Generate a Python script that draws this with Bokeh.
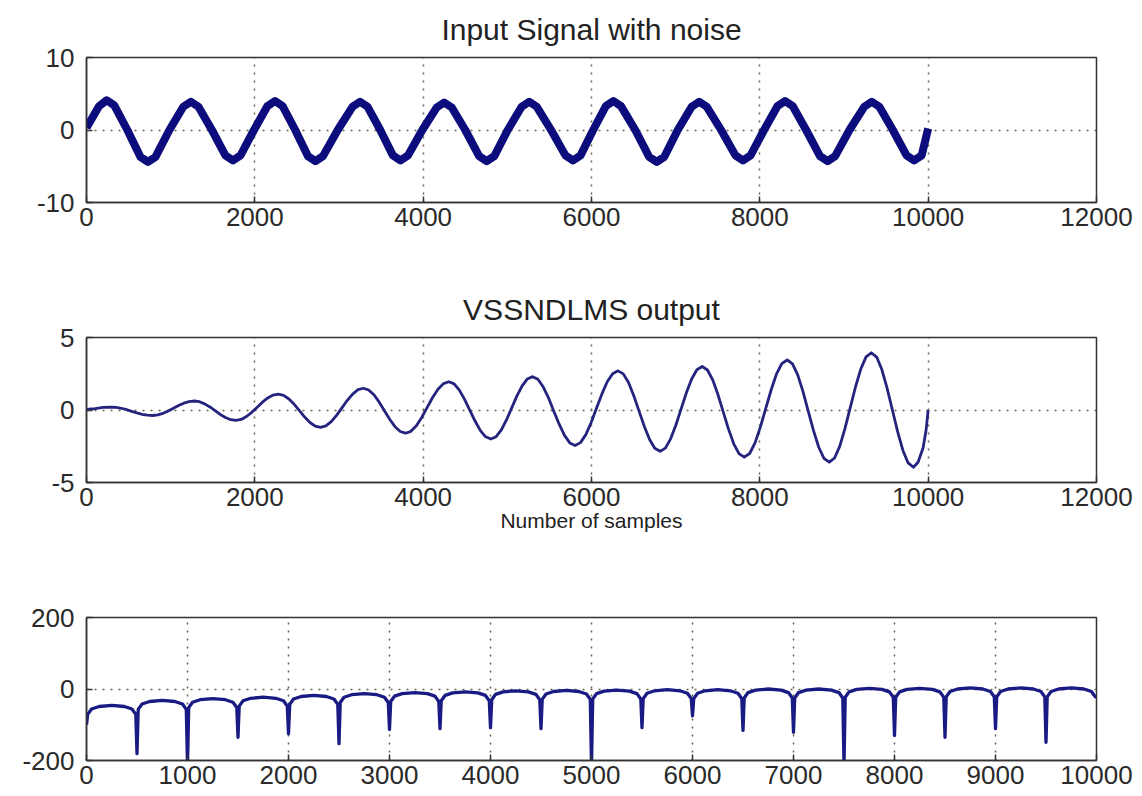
from bokeh.plotting import figure
from bokeh.layouts import column
from bokeh.models import FixedTicker, Range1d
from bokeh.embed import file_html
from bokeh.resources import INLINE

# ---------------- data ----------------
# Panel 1: input signal with noise (key points along the noisy sinusoid)
x1 = [0, 150, 240, 330, 485, 640, 730, 820, 985,
      1150, 1240, 1330, 1490, 1650, 1740, 1830, 1990,
      2150, 2240, 2330, 2480, 2630, 2720, 2810, 2985,
      3160, 3250, 3340, 3490, 3640, 3730, 3820, 3990,
      4160, 4250, 4340, 4500, 4665, 4755, 4845, 5005,
      5170, 5260, 5350, 5520, 5690, 5780, 5870, 6020,
      6170, 6260, 6350, 6520, 6685, 6775, 6865, 7025,
      7190, 7280, 7370, 7540, 7710, 7800, 7890, 8050,
      8210, 8300, 8390, 8550, 8715, 8805, 8895, 9065,
      9240, 9330, 9420, 9580, 9743, 9833, 9923, 10000]
y1 = [0.3, 3.3, 4.1, 3.4, 0.0, -3.7, -4.4, -3.7, 0.0,
      3.2, 3.9, 3.2, 0.0, -3.5, -4.2, -3.5, 0.0,
      3.3, 4.0, 3.3, 0.0, -3.6, -4.3, -3.6, 0.0,
      3.2, 3.9, 3.2, 0.0, -3.5, -4.2, -3.5, 0.0,
      3.1, 3.8, 3.1, 0.0, -3.6, -4.3, -3.6, 0.0,
      3.2, 3.9, 3.2, 0.0, -3.5, -4.2, -3.5, 0.0,
      3.3, 4.0, 3.3, 0.0, -3.7, -4.4, -3.7, 0.0,
      3.2, 3.9, 3.2, 0.0, -3.5, -4.2, -3.5, 0.0,
      3.3, 4.0, 3.3, 0.0, -3.6, -4.3, -3.6, 0.0,
      3.2, 3.9, 3.2, 0.0, -3.5, -4.2, -3.5, 0.2]

# Panel 2: VSSNDLMS output (growing oscillation)
x2 = [0, 100, 200, 290,
      352, 414, 476, 538, 599, 661, 723, 785,
      847, 909, 971, 1033, 1094, 1156, 1218, 1280,
      1342, 1404, 1466, 1528, 1589, 1651, 1713, 1775,
      1838, 1901, 1964, 2028, 2091, 2154, 2217, 2280,
      2342, 2405, 2468, 2530, 2592, 2655, 2718, 2780,
      2844, 2908, 2971, 3035, 3099, 3162, 3226, 3290,
      3352, 3415, 3478, 3540, 3602, 3665, 3728, 3790,
      3854, 3919, 3983, 4048, 4112, 4176, 4241, 4305,
      4368, 4430, 4492, 4555, 4618, 4680, 4742, 4805,
      4867, 4929, 4991, 5052, 5114, 5176, 5238, 5300,
      5363, 5426, 5489, 5552, 5616, 5679, 5742, 5805,
      5869, 5933, 5996, 6060, 6124, 6187, 6251, 6315,
      6378, 6440, 6502, 6565, 6628, 6690, 6752, 6815,
      6878, 6940, 7002, 7065, 7128, 7190, 7252, 7315,
      7378, 7440, 7502, 7565, 7628, 7690, 7752, 7815,
      7879, 7943, 8006, 8070, 8134, 8197, 8261, 8325,
      8388, 8450, 8512, 8575, 8638, 8700, 8762, 8825,
      8888, 8950, 9012, 9075, 9138, 9200, 9262, 9325,
      9388, 9450, 9512, 9575, 9638, 9700, 9762, 9825,
      9880, 9940, 9975, 10000]
y2 = [0.05, 0.10, 0.18, 0.20,
      0.18, 0.12, 0.02, -0.09, -0.20, -0.30, -0.36, -0.38,
      -0.34, -0.23, -0.07, 0.12, 0.31, 0.47, 0.58, 0.62,
      0.57, 0.42, 0.21, -0.05, -0.31, -0.52, -0.67, -0.72,
      -0.65, -0.45, -0.16, 0.19, 0.54, 0.83, 1.03, 1.10,
      1.01, 0.76, 0.39, -0.05, -0.49, -0.86, -1.11, -1.20,
      -1.10, -0.80, -0.37, 0.15, 0.67, 1.10, 1.40, 1.50,
      1.38, 1.05, 0.54, -0.05, -0.64, -1.15, -1.48, -1.60,
      -1.47, -1.08, -0.51, 0.18, 0.86, 1.43, 1.82, 1.95,
      1.80, 1.37, 0.73, -0.03, -0.78, -1.42, -1.85, -2.00,
      -1.84, -1.37, -0.67, 0.15, 0.97, 1.67, 2.14, 2.30,
      2.12, 1.60, 0.84, -0.08, -0.98, -1.75, -2.27, -2.45,
      -2.25, -1.70, -0.86, 0.13, 1.11, 1.95, 2.50, 2.70,
      2.49, 1.89, 0.99, -0.08, -1.14, -2.04, -2.64, -2.85,
      -2.63, -1.99, -1.05, 0.08, 1.20, 2.14, 2.78, 3.00,
      2.76, 2.08, 1.07, -0.13, -1.32, -2.33, -3.01, -3.25,
      -3.00, -2.27, -1.18, 0.10, 1.38, 2.47, 3.20, 3.45,
      3.18, 2.42, 1.28, -0.08, -1.42, -2.57, -3.33, -3.60,
      -3.31, -2.49, -1.27, 0.18, 1.62, 2.84, 3.66, 3.95,
      3.65, 2.79, 1.51, 0.00, -1.51, -2.79, -3.65, -3.95,
      -3.60, -2.60, -1.40, 0.00]

# Panel 3: arcs with notches every 500 samples
x3 = [0,
      12, 50, 125, 250, 375, 450, 488, 500,
      512, 550, 625, 750, 875, 950, 988, 1000,
      1012, 1050, 1125, 1250, 1375, 1450, 1488, 1500,
      1512, 1550, 1625, 1750, 1875, 1950, 1988, 2000,
      2012, 2050, 2125, 2250, 2375, 2450, 2488, 2500,
      2512, 2550, 2625, 2750, 2875, 2950, 2988, 3000,
      3012, 3050, 3125, 3250, 3375, 3450, 3488, 3500,
      3512, 3550, 3625, 3750, 3875, 3950, 3988, 4000,
      4012, 4050, 4125, 4250, 4375, 4450, 4488, 4500,
      4512, 4550, 4625, 4750, 4875, 4950, 4988, 5000,
      5012, 5050, 5125, 5250, 5375, 5450, 5488, 5500,
      5512, 5550, 5625, 5750, 5875, 5950, 5988, 6000,
      6012, 6050, 6125, 6250, 6375, 6450, 6488, 6500,
      6512, 6550, 6625, 6750, 6875, 6950, 6988, 7000,
      7012, 7050, 7125, 7250, 7375, 7450, 7488, 7500,
      7512, 7550, 7625, 7750, 7875, 7950, 7988, 8000,
      8012, 8050, 8125, 8250, 8375, 8450, 8488, 8500,
      8512, 8550, 8625, 8750, 8875, 8950, 8988, 9000,
      9012, 9050, 9125, 9250, 9375, 9450, 9488, 9500,
      9512, 9550, 9625, 9750, 9875, 9950, 9988, 10000]
y3 = [-100,
      -71, -56, -49, -46, -49, -56, -71, -181,
      -57, -42, -35, -32, -35, -42, -57, -215,
      -52, -37, -30, -27, -30, -37, -52, -135,
      -48, -33, -26, -23, -26, -33, -48, -125,
      -43, -28, -21, -18, -21, -28, -43, -153,
      -38, -23, -16, -13, -16, -23, -38, -113,
      -35, -20, -13, -10, -13, -20, -35, -111,
      -33, -18, -11, -8, -11, -18, -33, -108,
      -30, -15, -8, -5, -8, -15, -30, -111,
      -29, -14, -7, -4, -7, -14, -29, -215,
      -28, -13, -6, -3, -6, -13, -28, -108,
      -27, -12, -5, -2, -5, -12, -27, -75,
      -27, -12, -5, -2, -5, -12, -27, -116,
      -25, -10, -3, 0, -3, -10, -25, -121,
      -25, -10, -3, 0, -3, -10, -25, -215,
      -23, -8, -1, 2, -1, -8, -23, -130,
      -23, -8, -1, 2, -1, -8, -23, -135,
      -22, -7, 0, 3, 0, -7, -22, -111,
      -22, -7, 0, 3, 0, -7, -22, -149,
      -22, -7, 0, 3, 0, -7, -22, -22]

xticks_12k = [0, 2000, 4000, 6000, 8000, 10000, 12000]
xticks_10k = [0, 1000, 2000, 3000, 4000, 5000, 6000, 7000, 8000, 9000, 10000]
yticks1 = [-10, 0, 10]
yticks2 = [-5, 0, 5]
yticks3 = [-200, 0, 200]

title1 = "Input Signal with noise"
title2 = "VSSNDLMS output"
xlabel2 = "Number of samples"

FONT = "Liberation Sans"
EDGE = "#333333"
GRID = "#66664e"


def make(xr, yr, xticks, yticks, fh, top, bottom, title=None, xlabel=None):
    p = figure(frame_width=1010, frame_height=fh,
               x_range=Range1d(*xr), y_range=Range1d(*yr),
               output_backend="svg", toolbar_location=None,
               min_border_left=86, min_border_right=38,
               min_border_top=top, min_border_bottom=bottom)
    p.background_fill_color = "white"
    p.border_fill_color = "white"
    p.outline_line_color = EDGE
    p.outline_line_width = 1.5
    p.xaxis.ticker = FixedTicker(ticks=xticks)
    p.yaxis.ticker = FixedTicker(ticks=yticks)
    p.yaxis.major_label_overrides = {t: str(t) for t in yticks}
    for ax in (p.xaxis[0], p.yaxis[0]):
        ax.major_tick_in = 6
        ax.major_tick_out = 0
        ax.minor_tick_line_color = None
        ax.axis_line_color = EDGE
        ax.axis_line_width = 1.5
        ax.major_tick_line_color = EDGE
        ax.major_tick_line_width = 1.5
        ax.major_label_text_font = FONT
        ax.major_label_text_font_size = "26px"
        ax.major_label_text_color = "#2a2a2a"
    p.xaxis.major_label_standoff = 5
    p.yaxis.major_label_standoff = 12
    p.xgrid[0].ticker = FixedTicker(ticks=xticks[1:-1])
    p.ygrid[0].ticker = FixedTicker(ticks=yticks[1:-1])
    for g in (p.xgrid[0], p.ygrid[0]):
        g.grid_line_color = GRID
        g.grid_line_dash = "2 6"
        g.grid_line_width = 1.5
    if title:
        p.title.text = title
        p.title.align = "center"
        p.title.vertical_align = "top"
        p.title.text_font = FONT
        p.title.text_font_size = "30px"
        p.title.text_font_style = "normal"
        p.title.text_color = "#222222"
        p.title.standoff = 20
    if xlabel:
        p.xaxis.axis_label = xlabel
        p.xaxis.axis_label_text_font = FONT
        p.xaxis.axis_label_text_font_size = "21px"
        p.xaxis.axis_label_text_font_style = "normal"
        p.xaxis.axis_label_text_color = "#222222"
        p.xaxis.axis_label_standoff = 0
    return p


p1 = make((0, 12000), (-10, 10), xticks_12k, yticks1, 145, 57, 56, title=title1)
p1.line(x1, y1, line_color="#0c0c7c", line_width=8, line_join="round")

p2 = make((0, 12000), (-5, 5), xticks_12k, yticks2, 145, 79, 60, title=title2, xlabel=xlabel2)
p2.line(x2, y2, line_color="#24247f", line_width=2.8, line_join="round")

p3 = make((0, 10000), (-200, 200), xticks_10k, yticks3, 143, 75, 30)
p3.line(x3, y3, line_color="#1a1a84", line_width=3.3, line_join="round")

layout = column(p1, p2, p3, spacing=0)
open("out.html", "w").write(file_html(layout, INLINE))
